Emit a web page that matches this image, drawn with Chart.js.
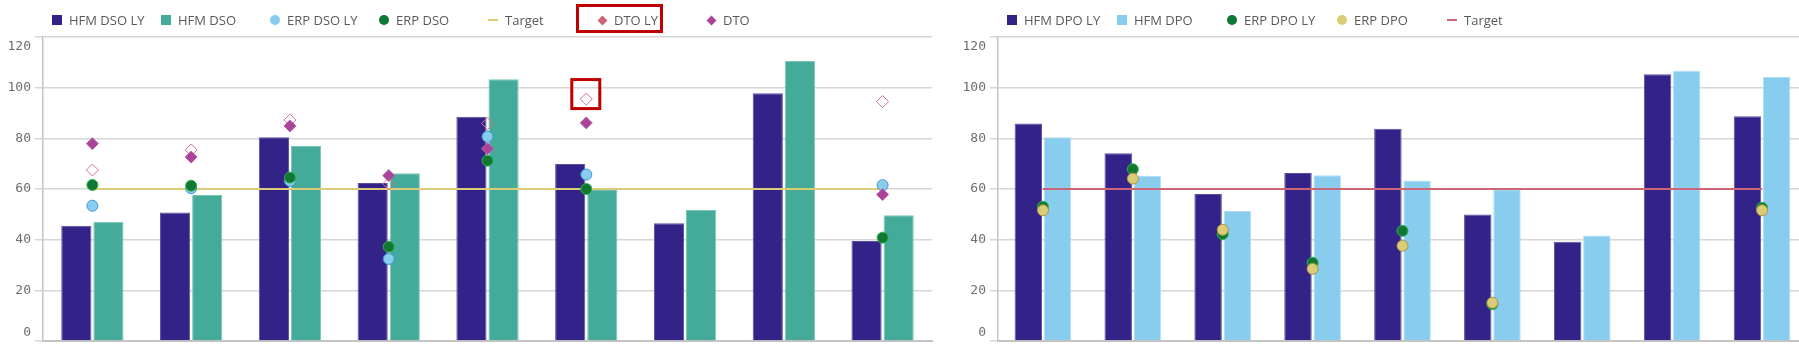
<!DOCTYPE html>
<html>
<head>
<meta charset="utf-8">
<script src="https://cdn.jsdelivr.net/npm/chart.js@4.4.1/dist/chart.umd.min.js"></script>
<style>
  html, body { margin: 0; padding: 0; background: #fff; overflow: hidden; }
  body { width: 1799px; height: 344px; position: relative; font-family: "Open Sans", sans-serif; }
  .chartBox { position: absolute; top: 0; }
  .legend { position: absolute; top: 0; left: 0; width: 1799px; height: 36px; }
  .item { position: absolute; top: 11px; height: 18px; font-size: 13px; color: #595959; line-height: 18px; white-space: nowrap; }
  .item .ic { position: absolute; top: 4px; left: 0; width: 10px; height: 10px; }
  .item .txt { position: absolute; left: 17px; top: 0; }
  .hl { position: absolute; border: 3px solid #c00000; box-sizing: border-box; }
</style>
</head>
<body>
<div class="chartBox" style="left:0;width:940px;height:360px"><canvas id="dso" width="940" height="360"></canvas></div>
<div class="chartBox" style="left:945px;width:870px;height:360px"><canvas id="dpo" width="870" height="360"></canvas></div>
<div class="legend" id="legend"></div>
<script>
// categories are not labelled in the picture
const categories = ['1', '2', '3', '4', '5', '6', '7', '8', '9'];
const yTicks = [0, 20, 40, 60, 80, 100, 120];

// DSO chart
const hfmDsoLy = [45.5, 50.7, 80.4, 62.4, 88.5, 69.9, 46.5, 97.8, 39.5];
const hfmDso = [47.1, 57.6, 77.0, 66.2, 103.3, 59.9, 51.7, 110.5, 49.6];
const erpDsoLy = [53.4, 60.3, 63.2, 32.4, 80.7, 65.7, null, null, 61.5];
const erpDso = [61.6, 61.3, 64.5, 37.2, 71.2, 60.0, null, null, 40.8];
const dtoLy = [67.5, 75.4, 87.2, 62.0, 85.8, 95.5, null, null, 94.5];
const dto = [77.9, 72.6, 84.9, 65.3, 75.9, 86.1, null, null, 57.8];
const dsoTarget = [60, 60, 60, 60, 60, 60, 60, 60, 60];

// DPO chart
const hfmDpoLy = [85.9, 74.1, 58.0, 66.3, 83.8, 49.9, 39.2, 105.3, 88.7];
const hfmDpo = [80.4, 65.1, 51.3, 65.4, 63.4, 59.9, 41.6, 106.7, 104.2];
const erpDpoLy = [53.0, 67.8, 42.2, 30.9, 43.5, 14.5, null, null, 52.6];
const erpDpo = [51.6, 64.1, 43.9, 28.5, 37.6, 15.1, null, null, 51.6];
const dpoTarget = [60, 60, 60, 60, 60, 60, 60, 60, 60];

const C = {
  indigo: '#332288', teal: '#44aa99', cyan: '#88ccee', green: '#117733',
  sand: '#ddcc77', rose: '#cc6677', purple: '#aa4499'
};
const tickFont = { family: 'DejaVu Sans Mono', size: 13 };
const tickColor = '#6e6e6e';

function bar(label, data, color, border) {
  return { type: 'bar', label, data, backgroundColor: color, borderColor: border,
    borderWidth: 1, order: 10, legendIcon: 'square', legendColor: color };
}
function dot(label, data, color, border, order) {
  return { type: 'line', label, data, showLine: false, pointStyle: 'circle',
    pointRadius: 5.5, pointBackgroundColor: color, pointBorderColor: border,
    pointBorderWidth: 1, order, legendIcon: 'circle', legendColor: color };
}
function diamond(label, data, fill, border, order, legendColor) {
  return { type: 'line', label, data, showLine: false, pointStyle: 'rectRot',
    pointRadius: 6, pointBackgroundColor: fill, pointBorderColor: border,
    pointBorderWidth: 1, order, legendIcon: 'diamond', legendColor };
}
function target(data, color) {
  return { type: 'line', label: 'Target', data, borderColor: color, borderWidth: 2,
    pointRadius: 0, order: 5, legendIcon: 'dash', legendColor: color };
}

// red box round the DTO LY point of the 6th category
const highlight = {
  id: 'highlight',
  afterDatasetsDraw(chart, args, opts) {
    if (!opts.show) return;
    const pt = chart.getDatasetMeta(opts.dataset).data[opts.index];
    const ctx = chart.ctx;
    ctx.save();
    ctx.strokeStyle = '#c00000';
    ctx.lineWidth = 3;
    ctx.strokeRect(pt.x - 14.5, pt.y - 19.5, 28, 29);
    ctx.restore();
  }
};

// Qlik pulls the first and last tick labels inside the plot
const edgeLabels = {
  id: 'edgeLabels',
  afterDraw(chart) {
    const y = chart.scales.y;
    const ctx = chart.ctx;
    ctx.save();
    ctx.font = tickFont.size + 'px "' + tickFont.family + '"';
    ctx.fillStyle = tickColor;
    ctx.textAlign = 'right';
    ctx.textBaseline = 'middle';
    const x = y.right - 8 - 4;
    ctx.fillText(String(y.max), x, y.getPixelForValue(y.max) + 10);
    ctx.fillText(String(y.min), x, y.getPixelForValue(y.min) - 8);
    ctx.restore();
  }
};

function makeChart(id, datasets, yWidth, hl) {
  return new Chart(document.getElementById(id), {
    type: 'bar',
    data: { labels: categories, datasets },
    plugins: [highlight, edgeLabels],
    options: {
      responsive: false,
      animation: false,
      layout: { padding: { top: 37, bottom: 19, left: 0, right: 8 } },
      datasets: { bar: { categoryPercentage: 0.65, barPercentage: 0.94 } },
      plugins: {
        legend: { display: false },
        tooltip: { enabled: false },
        highlight: hl
      },
      scales: {
        x: {
          ticks: { display: false },
          grid: { display: false, drawTicks: false },
          border: { display: true, color: '#c4c4c4', width: 2 }
        },
        y: {
          min: 0, max: 120,
          afterBuildTicks: (s) => { s.ticks = yTicks.map(v => ({ value: v })); },
          afterFit: (s) => { s.width = yWidth; },
          ticks: {
            color: tickColor, padding: 4, font: tickFont,
            callback: (v) => (v === 0 || v === 120) ? '' : String(v)
          },
          grid: { color: '#d6d6d6', lineWidth: 1.5, tickLength: 8 },
          border: { display: true, color: '#c4c4c4', width: 1.5 }
        }
      }
    }
  });
}

const dsoSets = [
  bar('HFM DSO LY', hfmDsoLy, C.indigo, '#5b4fa3'),
  bar('HFM DSO', hfmDso, C.teal, '#7cc6b8'),
  dot('ERP DSO LY', erpDsoLy, C.cyan, '#3f95d4', 4),
  dot('ERP DSO', erpDso, C.green, '#2fb34e', 3),
  target(dsoTarget, C.sand),
  diamond('DTO LY', dtoLy, 'rgba(255,255,255,0)', '#d9748a', 2, C.rose),
  diamond('DTO', dto, C.purple, '#b963ad', 1, C.purple)
];
const dpoSets = [
  bar('HFM DPO LY', hfmDpoLy, C.indigo, '#5b4fa3'),
  bar('HFM DPO', hfmDpo, C.cyan, '#b3defa'),
  dot('ERP DPO LY', erpDpoLy, C.green, '#2fb34e', 4),
  dot('ERP DPO', erpDpo, C.sand, '#a89545', 3),
  target(dpoTarget, C.rose)
];

const dsoChart = makeChart('dso', dsoSets, 43, { show: true, dataset: 5, index: 5 });
const dpoChart = makeChart('dpo', dpoSets, 53, { show: false });

// legend built from the datasets, Qlik style equal spacing
function buildLegend(datasets, startX, step, boxLabel) {
  const host = document.getElementById('legend');
  datasets.forEach((ds, i) => {
    const it = document.createElement('div');
    it.className = 'item';
    it.style.left = (startX + i * step) + 'px';
    const ic = document.createElement('div');
    ic.className = 'ic';
    if (ds.legendIcon === 'square') {
      ic.style.background = ds.legendColor;
    } else if (ds.legendIcon === 'circle') {
      ic.style.background = ds.legendColor; ic.style.borderRadius = '50%';
    } else if (ds.legendIcon === 'dash') {
      ic.style.height = '2px'; ic.style.top = '8px'; ic.style.background = ds.legendColor;
    } else {
      ic.style.width = '7px'; ic.style.height = '7px'; ic.style.left = '1.5px'; ic.style.top = '5.5px';
      ic.style.transform = 'rotate(45deg)'; ic.style.background = ds.legendColor;
    }
    const tx = document.createElement('span');
    tx.className = 'txt';
    tx.textContent = ds.label;
    it.appendChild(ic); it.appendChild(tx);
    host.appendChild(it);
    if (ds.label === boxLabel) {
      const box = document.createElement('div');
      box.className = 'hl';
      box.style.left = (startX + i * step - 21) + 'px';
      box.style.top = '4px'; box.style.width = '87px'; box.style.height = '29px';
      host.appendChild(box);
    }
  });
}
buildLegend(dsoSets, 52, 109, 'DTO LY');
buildLegend(dpoSets, 1007, 110, null);
</script>
</body>
</html>
